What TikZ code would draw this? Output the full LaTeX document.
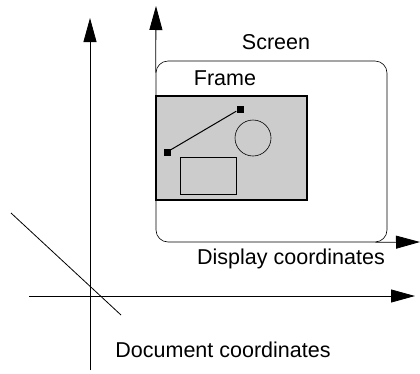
\documentclass[tikz,border=0pt]{standalone}
\usepackage{fontspec}
\setmainfont{Liberation Sans}
\usepackage{tikz}
\usetikzlibrary{arrows.meta, positioning}
\tikzstyle{label} = [inner sep=0pt, font=\fontsize{21.5}{24}\selectfont]
\tikzstyle{axis} = [line width=0.8pt, -{Triangle[length=24pt, width=13pt]}]
\tikzstyle{screenbox} = [draw=black, line width=0.6pt, rounded corners=12pt, inner sep=0pt,
    minimum width=231pt, minimum height=181pt]
\tikzstyle{framebox} = [draw=black, line width=2pt, fill=gray!40, inner sep=0pt,
    minimum width=151pt, minimum height=104pt]
\tikzstyle{marker} = [fill=black, inner sep=0pt, minimum size=7pt]

\begin{document}
\begin{tikzpicture}[x=1pt, y=-1pt]
  \useasboundingbox (0,0) rectangle (420,373);

  % document coordinates
  \coordinate (dorig) at (90,296);
  \coordinate (dbot)  at (90,370);
  \coordinate (dtop)  at (90,18);
  \coordinate (dleft) at (29,296);
  \coordinate (dright) at (415,296);
  \coordinate (cutA) at (11,213);
  \coordinate (cutB) at (121,315);
  \draw[axis] (dbot) -- (dtop);
  \draw[axis] (dleft) -- (dright);
  \draw[line width=0.8pt] (cutA) -- (cutB);

  % screen and frame
  \node (screen) [screenbox] at (271.5,151.5) {};
  \node (frame)  [framebox]  at (231.5,148) {};
  \node (box)    [draw, line width=0.6pt, inner sep=0pt, minimum width=56pt, minimum height=37pt] at (208,175.5) {};
  \node (circ)   [draw, circle, line width=0.6pt, inner sep=0pt, minimum size=36pt] at (253,138) {};
  \node (p1) [marker] at (167,152) {};
  \node (p2) [marker] at (240,109) {};
  \draw[line width=1pt] (p1) -- (p2);

  % display coordinates
  \coordinate (stop)   at ([yshift=-12pt]screen.north west);
  \coordinate (sright) at ([xshift=-12pt]screen.south east);
  \coordinate (vtip) at (156,6);
  \coordinate (htip) at (420,242);
  \draw[axis] (stop) -- (vtip);
  \draw[axis] (sright) -- (htip);

  \node (scrlbl)  [label] at (276,42) {Screen};
  \node (frmlbl)  [label] at (225,78) {Frame};
  \node (displbl) [label] at (291,259) {Display coordinates};
  \node (doclbl)  [label] at (223,350) {Document coordinates};
\end{tikzpicture}
\end{document}
